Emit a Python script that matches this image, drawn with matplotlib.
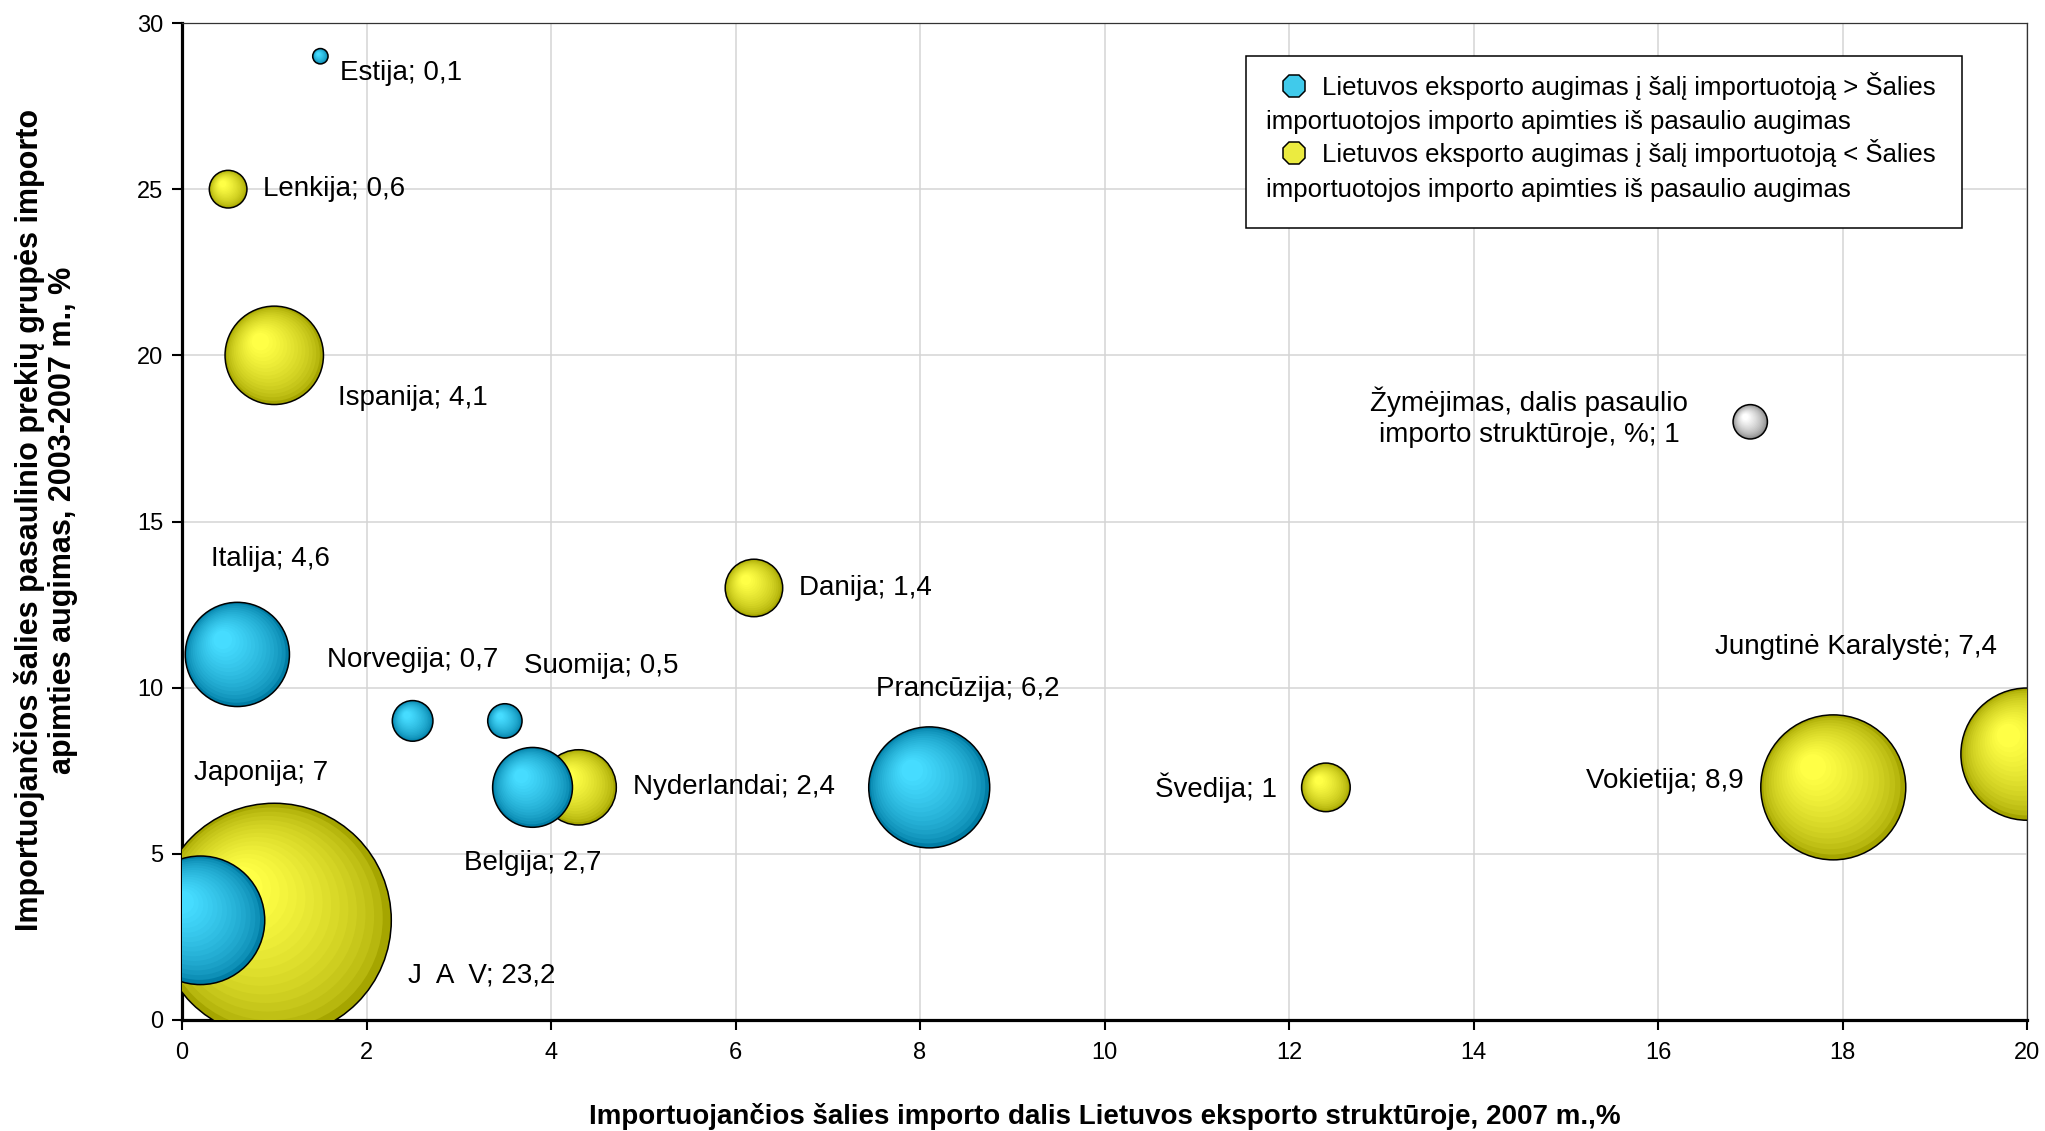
import numpy as np
import matplotlib
matplotlib.use("Agg")
import matplotlib.pyplot as plt
from matplotlib.patches import Ellipse, Rectangle
from matplotlib.lines import Line2D
from matplotlib.transforms import Bbox

plt.rcParams["font.family"] = ["Liberation Sans", "DejaVu Sans"]

# blue series: LT export growth to the country > country's import growth from the world
BLUE_NAMES = ["Estija", "Italija", "Norvegija", "Suomija", "Belgija", "Prancūzija", "Japonija"]
BLUE_X = [1.5, 0.6, 2.5, 3.5, 3.8, 8.1, 0.2]
BLUE_Y = [29, 11, 9, 9, 7, 7, 3]
BLUE_SIZE = [0.1, 4.6, 0.7, 0.5, 2.7, 6.2, 7.0]

# yellow series: LT export growth to the country < country's import growth from the world
YELLOW_NAMES = ["Lenkija", "Ispanija", "Danija", "Nyderlandai", "Švedija", "Vokietija",
                "Jungtinė Karalystė", "J  A  V"]
YELLOW_X = [0.5, 1.0, 6.2, 4.3, 12.4, 17.9, 20.0, 1.0]
YELLOW_Y = [25, 20, 13, 7, 7, 7, 8, 3]
YELLOW_SIZE = [0.6, 4.1, 1.4, 2.4, 1.0, 8.9, 7.4, 23.2]

# reference bubble ("Žymėjimas")
KEY_X, KEY_Y, KEY_SIZE = [17.0], [18.0], [0.5]
KEY_LABEL = "Žymėjimas, dalis pasaulio\nimporto struktūroje, %; 1"

LEGEND_LABELS = [
    ("Lietuvos eksporto augimas į šalį importuotoją > Šalies",
     "importuotojos importo apimties iš pasaulio augimas"),
    ("Lietuvos eksporto augimas į šalį importuotoją < Šalies",
     "importuotojos importo apimties iš pasaulio augimas"),
]
XLABEL = "Importuojančios šalies importo dalis Lietuvos eksporto struktūroje, 2007 m.,%"
YLABEL = ("Importuojančios šalies pasaulinio prekių grupės importo\n"
          "apimties augimas, 2003-2007 m., %")

# label placement: offset in pixels from bubble centre, horizontal alignment
LABEL_POS = {
    "Estija": (20, -17, "left"), "Lenkija": (35, 0, "left"), "Ispanija": (64, -43, "left"),
    "Italija": (-26, 95, "left"), "Norvegija": (-86, 61, "left"), "Suomija": (19, 55, "left"),
    "Belgija": (-69, -76, "left"), "Nyderlandai": (54, 0, "left"), "Danija": (45, 0, "left"),
    "Prancūzija": (-53, 98, "left"), "Švedija": (-49, 0, "right"),
    "Vokietija": (-90, 6, "right"), "Jungtinė Karalystė": (-30, 107, "right"),
    "Japonija": (-6, 147, "left"), "J  A  V": (134, -55, "left"),
}

BLUE = ((0, 125, 165), (70, 220, 255))
YELLOW = ((165, 165, 0), (255, 255, 70))
GREY = ((130, 130, 130), (255, 255, 255))
PX_PER_SQRT = 24.3   # bubble radius in px per sqrt(size)

fig = plt.figure(figsize=(20.45, 11.31), dpi=100)
ax = fig.add_axes([182 / 2045, 111 / 1131, 1845 / 2045, 997 / 1131])
ax.set_xlim(0, 20)
ax.set_ylim(0, 30)
ax.set_xticks(np.arange(0, 21, 2))
ax.set_yticks(np.arange(0, 31, 5))
ax.grid(True, color="#d4d4d4", lw=1.1, zorder=0)
ax.set_axisbelow(True)
ax.tick_params(labelsize=17, length=7.5, width=1.5, direction="out")
ax.tick_params(axis="x", pad=8)
ax.tick_params(axis="y", pad=6)
for s in ["left", "bottom"]:
    ax.spines[s].set_linewidth(2.3)
for s in ["top", "right"]:
    ax.spines[s].set_linewidth(0.9)
    ax.spines[s].set_color("#333333")

bb = ax.get_window_extent()
sx = bb.width / 20.0
sy = bb.height / 30.0


def draw_bubble(x, y, size, colors, z):
    r = PX_PER_SQRT * np.sqrt(size)
    dark, light = np.array(colors[0]) / 255, np.array(colors[1]) / 255
    n = 16
    for i in range(n):
        t = i / (n - 1)
        rr = r * (1 - 0.82 * t)
        cx = x - 0.28 * r * t / sx
        cy = y + 0.28 * r * t / sy
        c = dark + (light - dark) * t ** 0.6
        ax.add_patch(Ellipse((cx, cy), 2 * rr / sx, 2 * rr / sy, facecolor=c,
                             edgecolor="none", zorder=z + i * 0.001))
    ax.add_patch(Ellipse((x, y), 2 * r / sx, 2 * r / sy, facecolor="none",
                         edgecolor="black", lw=1.1, zorder=z + 0.05))


def fmt(v):
    return f"{v:g}".replace(".", ",")


z = 2
for xs, ys, ss, names, cols in [(YELLOW_X, YELLOW_Y, YELLOW_SIZE, YELLOW_NAMES, YELLOW),
                                 (BLUE_X, BLUE_Y, BLUE_SIZE, BLUE_NAMES, BLUE)]:
    for x, y, s, nm in zip(xs, ys, ss, names):
        draw_bubble(x, y, s, cols, z)
        z += 0.1
    for x, y, s, nm in zip(xs, ys, ss, names):
        dx, dy, ha = LABEL_POS[nm]
        ax.annotate(f"{nm}; {fmt(s)}", (x, y), xytext=(dx, dy), textcoords="offset pixels",
                    ha=ha, va="center", fontsize=20, zorder=20, annotation_clip=False)

for x, y, s in zip(KEY_X, KEY_Y, KEY_SIZE):
    draw_bubble(x, y, s, GREY, z)
    ax.annotate(KEY_LABEL, (x, y), xytext=(-62, 5), textcoords="offset pixels",
                ha="right", va="center", multialignment="center", fontsize=20,
                linespacing=1.25, zorder=20)

# legend box, drawn by hand to mimic the wrapped Excel legend
ax.add_patch(Rectangle((0.5767, 0.7944), 0.3881, 0.1725, transform=ax.transAxes,
                       facecolor="white", edgecolor="black", lw=1.1, zorder=30))
leg_rows = [(0.9368, 0.9007), (0.8696, 0.8325)]
for (l1, l2), (y1, y2), cols in zip(LEGEND_LABELS, leg_rows, [BLUE, YELLOW]):
    ax.add_line(Line2D([0.6026], [y1], transform=ax.transAxes, marker="8", ms=17,
                       mfc=np.array(cols[1]) / 255 * 0.92, mec="black", mew=1.1,
                       zorder=31, clip_on=False))
    ax.text(0.6179, y1, l1, transform=ax.transAxes, fontsize=18.5, va="center", zorder=31)
    ax.text(0.5875, y2, l2, transform=ax.transAxes, fontsize=18.5, va="center", zorder=31)

fig.text(1105 / 2045, 1 - 1117 / 1131, XLABEL, ha="center", va="center",
         fontsize=20, fontweight="bold")
yl = fig.text(46 / 2045, 1 - 520 / 1131, YLABEL, ha="center", va="center", rotation=90,
              multialignment="center", fontsize=22, fontweight="bold", linespacing=1.15)
yl.set_clip_on(True)
yl.set_clip_box(Bbox([[0, 0], [300, 1131 - 111]]))

fig.savefig("out.png", dpi=100)
